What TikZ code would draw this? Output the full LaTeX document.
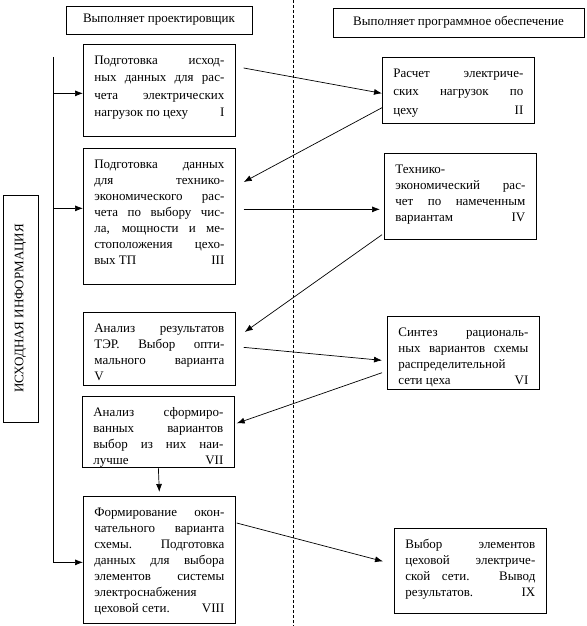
\documentclass[tikz,border=0pt]{standalone}
\usepackage{fontspec}
\setmainfont{Liberation Serif}
\usetikzlibrary{arrows.meta}
\tolerance=10000
\hbadness=10000

\begin{document}
\begin{tikzpicture}[x=1pt, y=-1pt, line width=0.7pt,
    every node/.style={font=\fontsize{13}{16}\selectfont},
    head/.style={draw, inner sep=0pt, minimum height=28pt},
    stage/.style={draw, anchor=north west, text width=130pt, inner xsep=11pt,
        inner ysep=4pt, align=justify, text height=16pt, text depth=#1},
    flow/.style={-{Latex[length=8pt,width=6pt]}}]
    \useasboundingbox (0,0) rectangle (586,626);

    % headers and divider
    \node[head, minimum width=186pt] (who) at (159,20) {Выполняет проектировщик};
    \node[head, minimum width=251pt, minimum height=29pt] (soft) at (458.5,22.5) {Выполняет программное обеспечение};
    \coordinate (divtop) at (293,0);
    \coordinate (divbot) at (293,626);
    \draw[dash pattern=on 3pt off 2pt] (divtop) -- (divbot);

    % source of data
    \node[draw, rotate=90, inner sep=0pt, minimum width=227pt, minimum height=35pt] (src) at (20.5,308.5) {ИСХОДНАЯ ИНФОРМАЦИЯ};

    % stages, left column
    \node[stage=68pt, font=\fontsize{13}{17.5}\selectfont] (b1) at (83,44)
        {Подготовка исход-\linebreak ных данных для рас-\linebreak чета электрических\linebreak нагрузок по цеху \hfill I\hspace*{4pt}};
    \node[stage=112pt] (b3) at (83,148)
        {Подготовка данных\linebreak для технико-\linebreak экономического рас-\linebreak чета по выбору чис-\linebreak ла, мощности и ме-\linebreak стоположения цехо-\linebreak вых ТП \hfill III};
    \node[stage=49pt] (b5) at (83,312)
        {Анализ результатов\linebreak ТЭР. Выбор опти-\linebreak мального варианта\linebreak V};
    \node[stage=47pt] (b7) at (82,396)
        {Анализ сформиро-\linebreak ванных вариантов\linebreak выбор из них наи-\linebreak лучше \hfill VII};
    \node[stage=103pt] (b8) at (83,496)
        {Формирование окон-\linebreak чательного варианта\linebreak схемы. Подготовка\linebreak данных для выбора\linebreak элементов системы\linebreak электроснабжения\linebreak цеховой сети. \hfill VIII};

    % stages, right column
    \node[stage=42pt, font=\fontsize{13}{18.5}\selectfont] (b2) at (382,57)
        {Расчет электриче-\linebreak ских нагрузок по\linebreak цеху \hfill II};
    \node[stage=62pt] (b4) at (384,153)
        {Технико-\linebreak экономический рас-\linebreak чет по намеченным\linebreak вариантам \hfill IV\hspace*{8pt}};
    \node[stage=49pt] (b6) at (387,316)
        {Синтез рациональ-\linebreak ных вариантов схемы\linebreak распределительной\linebreak сети цеха \hfill VI};
    \node[stage=61pt] (b9) at (394,528)
        {Выбор элементов\linebreak цеховой электриче-\linebreak ской сети. Вывод\linebreak результатов. \hfill IX};

    % input feed
    \coordinate (feed) at (53,57);
    \coordinate (in1) at ([yshift=-3pt]b1.west);
    \coordinate (in3) at ([yshift=8pt]b3.west);
    \draw[flow] (feed) |- ([yshift=-2.5pt]b8.west);
    \draw[flow] (in1 -| feed) -- (in1);
    \draw[flow] (in3 -| feed) -- (in3);

    % links between stages
    \draw[flow] ([xshift=8pt,yshift=-24pt]b1.north east) -- ([yshift=-3pt]b2.west);
    \draw[flow] ([yshift=16pt]b2.south west) -- ([xshift=8pt,yshift=-34pt]b3.north east);
    \draw[flow] ([xshift=8pt,yshift=7pt]b3.east) -- ([xshift=-4pt,yshift=-13pt]b4.west);
    \draw[flow] ([xshift=-2pt,yshift=5pt]b4.south west) -- ([xshift=9pt,yshift=-20pt]b5.north east);
    \draw[flow] ([xshift=8pt,yshift=1.5pt]b5.east) -- ([xshift=-5pt,yshift=-7.5pt]b6.west);
    \draw[flow] ([xshift=-5pt,yshift=17pt]b6.south west) -- ([xshift=2pt,yshift=8.5pt]b7.east);
    \draw[flow] (b7.south) -- ([yshift=4pt]b8.north);
    \draw[flow] ([xshift=1pt,yshift=-27pt]b8.north east) -- ([xshift=-11pt,yshift=9.5pt]b9.west);
\end{tikzpicture}
\end{document}
